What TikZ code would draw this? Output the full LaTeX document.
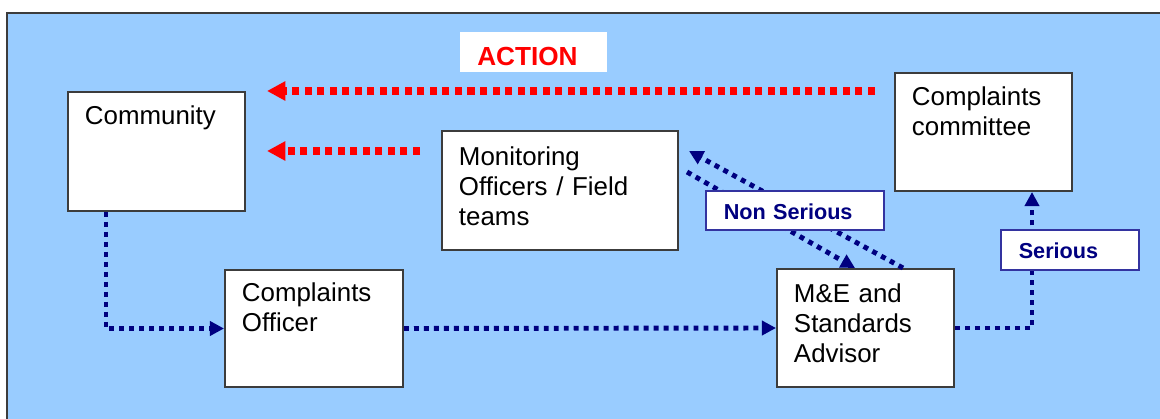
\documentclass[tikz,border=0pt]{standalone}
\usepackage{fontspec}
\setmainfont{Liberation Sans}
\usetikzlibrary{arrows.meta,calc}
\definecolor{bgblue}{RGB}{153,204,255}
\definecolor{boxgray}{RGB}{60,60,60}
\definecolor{navyc}{RGB}{0,0,128}
\definecolor{labborder}{RGB}{51,51,160}
\definecolor{redc}{RGB}{255,0,0}
\begin{document}
\begin{tikzpicture}[x=0.025cm,y=-0.025cm,
  box/.style={draw=boxgray, fill=white, line width=1.4pt, anchor=north west,
    align=left, inner xsep=0.425cm, inner ysep=0pt,
    font=\fontsize{18.4}{21.3}\selectfont},
  lab/.style={draw=labborder, fill=white, line width=1.1pt, anchor=north west,
    align=left, inner xsep=0.45cm, inner ysep=0pt, text=navyc,
    font=\fontsize{15.4}{18}\selectfont\bfseries},
  navyline/.style={draw=navyc, line width=3.5pt, dash pattern=on 3.5pt off 3.6pt,
    -{Triangle[length=10pt,width=10pt]}},
  redline/.style={draw=redc, line width=5pt, dash pattern=on 5pt off 3.9pt,
    -{Triangle[length=13pt,width=13pt]}}]
\useasboundingbox (0,0) rectangle (1160,419);
\fill[bgblue] (7,13) rectangle (1160,419);
\draw[boxgray, line width=1.4pt] (7,419) -- (7,13) -- (1160,13);

% main boxes
\node[box, text width=3.575cm, text height=0.825cm, text depth=2.15cm] (comm) at (67,91) {Community};
\node[box, text width=5.05cm, text height=0.875cm, text depth=2.1cm] (mon) at (441,130) {Monitoring\\Officers / Field\\teams};
\node[box, text width=3.575cm, text height=0.825cm, text depth=2.125cm] (cc) at (894,72) {Complaints\\committee};
\node[box, text width=3.6cm, text height=0.8cm, text depth=2.125cm] (co) at (224,269) {Complaints\\Officer};
\node[box, text width=3.575cm, text height=0.85cm, text depth=2.1cm] (me) at (776,268) {M\&E and\\Standards\\Advisor};

% ACTION label
\node[anchor=north west, fill=white, inner xsep=0.425cm, inner ysep=0pt, align=left,
  text width=2.825cm, text height=0.825cm, text depth=0.175cm, text=redc,
  font=\fontsize{18.6}{21}\selectfont\bfseries] (action) at (460,32) {ACTION};

% red action arrows
\draw[redline] ($(cc.north west)+(-19,19)$) -- ($(comm.north east)+(21,0)$);
\draw[redline] ($(mon.north west)+(-21,21)$) -- ($(comm.north east)+(21,60)$);

% navy flow
\draw[navyline] ($(comm.south west)+(39,0)$) |- (co.west);
\draw[navyline] (co.east) -- (me.west);
\draw[navyline] (me.east) -| ($(cc.south west)+(138,0)$);
\draw[navyline] ($(me.north west)+(127,0)$) -- ($(mon.north east)+(10,21)$);
\draw[navyline] ($(mon.north east)+(8,42)$) -- ($(me.north west)+(79,0)$);

% labels
\node[lab, text width=3.55cm, text height=0.725cm, text depth=0.25cm] (nonser) at (705,190) {Non Serious};
\node[lab, text width=2.55cm, text height=0.725cm, text depth=0.275cm] (ser) at (1000,229) {Serious};
\end{tikzpicture}
\end{document}
